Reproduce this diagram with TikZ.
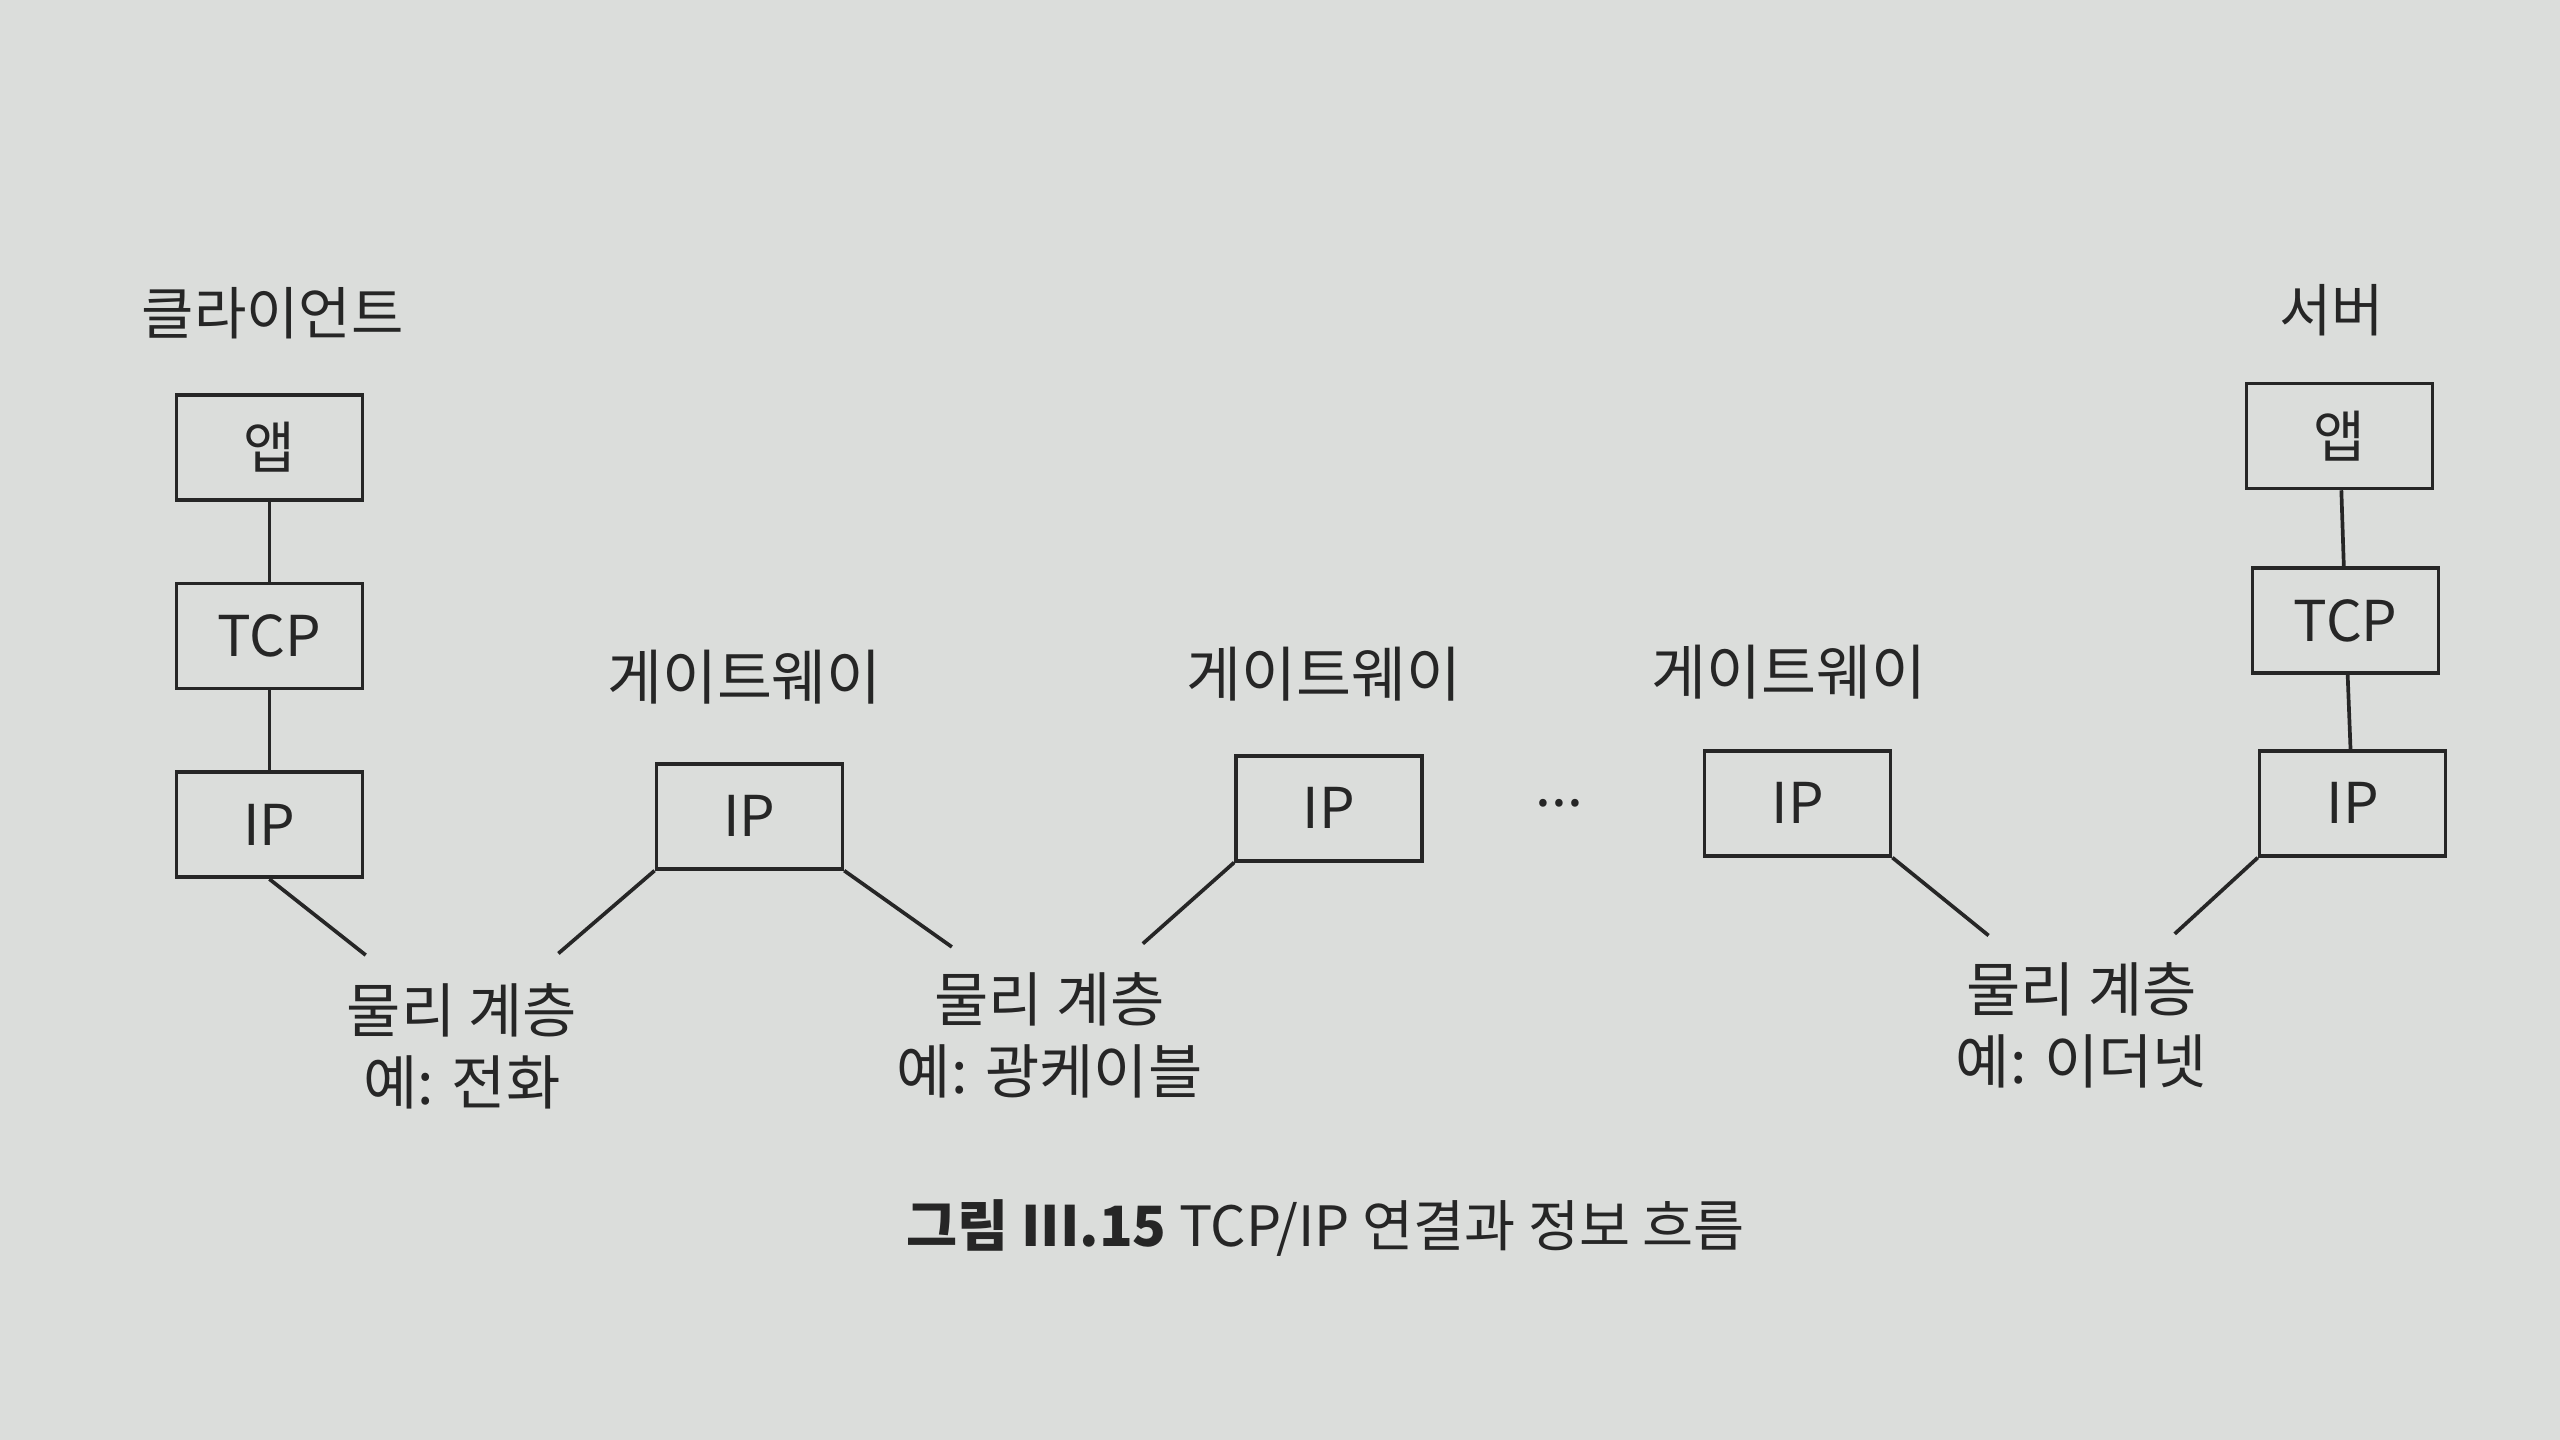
\documentclass[tikz,border=0pt]{standalone}
\usepackage{fontspec}
\setmainfont{Noto Sans CJK KR}
\usepackage{tikz}
\usetikzlibrary{positioning}
\definecolor{paper}{RGB}{219,221,219}
\definecolor{ink}{RGB}{38,38,38}
\tikzset{
    layerbox/.style={draw=ink, line width=1.05pt, minimum width=1.86cm, minimum height=1.05cm, inner sep=0pt, font=\fontsize{16}{16}\selectfont, text=ink},
    hostlabel/.style={font=\fontsize{16.2}{18}\selectfont, text=ink},
    gatelabel/.style={font=\fontsize{17}{18}\selectfont, text=ink},
    medialabel/.style={align=center, font=\fontsize{16.8}{20.5}\selectfont, text=ink},
    captionlabel/.style={font=\fontsize{15.8}{18}\selectfont, text=ink},
    stackline/.style={draw=ink, line width=1.05pt},
    linkline/.style={draw=ink, line width=1.05pt}
}

\begin{document}
\begin{tikzpicture}[x=0.016327cm, y=-0.016327cm, node distance=0.8cm]
    \fill[paper] (0,0) rectangle (1568,882);
    \useasboundingbox (0,0) rectangle (1568,882);

    % client stack
    \node[hostlabel] (cltname) at (167,192) {클라이언트};
    \node[layerbox] (cltapp) at (165,274) {앱};
    \node[layerbox, below=of cltapp] (clttcp) {TCP};
    \node[layerbox, below=of clttcp] (cltip) {IP};

    % gateways
    \node[gatelabel] (gwname1) at (456,415) {게이트웨이};
    \node[layerbox] (gwip1) at (459,500) {IP};
    \node[gatelabel] (gwname2) at (811,413) {게이트웨이};
    \node[layerbox] (gwip2) at (814,495) {IP};
    \node[hostlabel] (dots) at (955,492) {...};
    \node[gatelabel] (gwname3) at (1096,412) {게이트웨이};
    \node[layerbox] (gwip3) at (1101,492) {IP};

    % server stack
    \node[hostlabel] (srvname) at (1428,190) {서버};
    \node[layerbox] (srvapp) at (1433,267) {앱};
    \node[layerbox, below=0.76cm of srvapp, xshift=0.06cm] (srvtcp) {TCP};
    \node[layerbox, below=0.74cm of srvtcp, xshift=0.07cm] (srvip) {IP};

    % physical layers
    \node[medialabel] (phys1) at (283,641) {물리 계층\\예: 전화};
    \node[medialabel] (phys2) at (643,634) {물리 계층\\예: 광케이블};
    \node[medialabel] (phys3) at (1275,628) {물리 계층\\예: 이더넷};
    \coordinate (ph1l) at (224,585);
    \coordinate (ph1r) at (342,584);
    \coordinate (ph2l) at (583,580);
    \coordinate (ph2r) at (700,578);
    \coordinate (ph3l) at (1218,573);
    \coordinate (ph3r) at (1332,572);

    \draw[stackline] (cltapp) -- (clttcp);
    \draw[stackline] (clttcp) -- (cltip);
    \draw[stackline] (srvapp) -- (srvtcp);
    \draw[stackline] (srvtcp) -- (srvip);

    \draw[linkline] (cltip.south) -- (ph1l);
    \draw[linkline] (gwip1.south west) -- (ph1r);
    \draw[linkline] (gwip1.south east) -- (ph2l);
    \draw[linkline] (gwip2.south west) -- (ph2r);
    \draw[linkline] (gwip3.south east) -- (ph3l);
    \draw[linkline] (srvip.south west) -- (ph3r);

    \node[captionlabel] (caption) at (812,752) {\textbf{그림 III.15} TCP/IP 연결과 정보 흐름};
\end{tikzpicture}
\end{document}
